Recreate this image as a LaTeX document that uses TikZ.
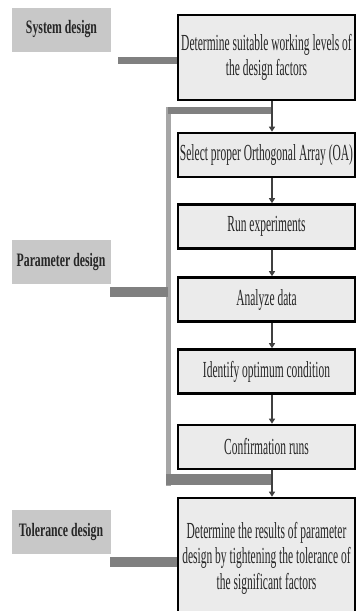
\documentclass[tikz,border=0pt]{standalone}
\usepackage{fontspec}
\setmainfont[FakeStretch=0.5]{Liberation Serif}
\newfontfamily\stagefont[FakeStretch=0.62]{Liberation Serif}
\usetikzlibrary{arrows.meta}
\definecolor{stagegray}{HTML}{C8C8C8}
\definecolor{boxgray}{HTML}{EBEBEB}
\definecolor{bargray}{HTML}{808080}
\definecolor{railgray}{HTML}{A6A6A6}

\begin{document}
\begin{tikzpicture}[x=1pt,y=-1pt,
    stage/.style={fill=stagegray, text=black!85, font=\stagefont\fontsize{19}{22}\selectfont\bfseries, minimum width=99pt, minimum height=44pt, inner sep=0pt},
    task/.style={draw=black, line width=2.6pt, fill=boxgray, text=black!85, font=\fontsize{23}{25.5}\selectfont, align=center, minimum width=177pt, minimum height=44pt, inner sep=0pt},
    flow/.style={draw=black!75, line width=1.2pt, -{Triangle[width=6pt,length=5pt]}},
    bar/.style={draw=bargray, line width=7pt},
    rail/.style={draw=railgray, line width=5pt}]
	\useasboundingbox (0,0) rectangle (356,611);
	% stages on the left
	\node[stage] (sys) at (61.5,29.5) {System design};
	\node[stage] (par) at (61,261.5) {Parameter design};
	\node[stage] (tol) at (61,531.5) {Tolerance design};
	% steps
	\node[task, minimum height=85pt] (b1) at (266.5,57.5) {Determine suitable working levels of\\the design factors};
	\node[task] (b2) at (266.5,155) {Select proper Orthogonal Array (OA)};
	\node[task] (b3) at (266.5,226.5) {Run experiments};
	\node[task] (b4) at (266.5,299.5) {Analyze data};
	\node[task] (b5) at (266.5,371.5) {Identify optimum condition};
	\node[task] (b6) at (266.5,447) {Confirmation runs};
	\node[task, minimum height=120pt] (b7) at (266.5,558) {Determine the results of parameter\\design by tightening the tolerance of\\the significant factors};
	% bracket of the parameter design
	\coordinate (railtop) at (168,107);
	\coordinate (railbot) at (168,486);
	\coordinate (parend) at (110,292);
	\draw[rail] (railtop) -- (railbot);
	\draw[bar] ([xshift=5.5pt]b1.south |- 0,110.5) -- (railtop |- 0,110.5);
	\draw[bar, line width=11pt] ([xshift=5.5pt]b6.south |- 0,479.5) -- (165.5,479.5);
	\draw[bar, line width=10pt] (parend) -- (parend -| railtop);
	% bars to the first and last step
	\coordinate (sysend) at (118,60.5);
	\coordinate (tolend) at (110,562);
	\draw[bar] (sysend) -- (sysend -| b1.west);
	\draw[bar, line width=10pt] (tolend) -- (tolend -| b7.west);
	\foreach \a/\b in {b1/b2,b2/b3,b3/b4,b4/b5,b5/b6,b6/b7}
		\draw[flow] ([xshift=5.5pt]\a.south) -- ([xshift=5.5pt]\b.north);
\end{tikzpicture}
\end{document}
